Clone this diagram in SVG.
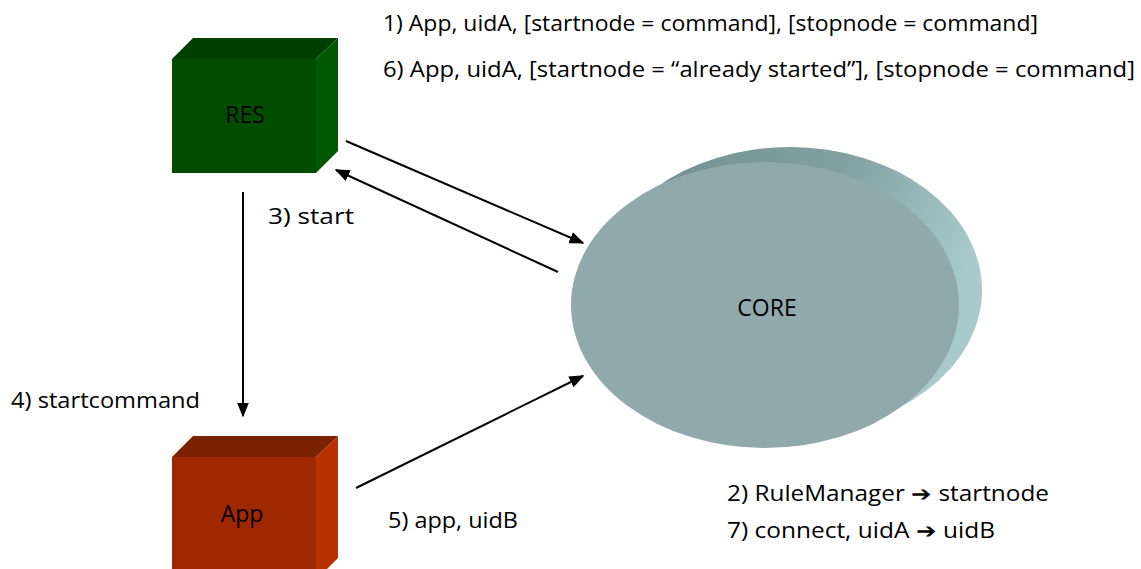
<svg xmlns="http://www.w3.org/2000/svg" width="1141" height="569" viewBox="0 0 1141 569">
  <defs>
    <style>
      text { font-family: "Open Sans", "Liberation Sans", sans-serif; fill: #000; }
      .lbl { font-size: 21px; }
      .node { font-size: 23px; text-anchor: middle; }
      .conn line { stroke: #000; stroke-width: 2; }
    </style>
    <marker id="arrow" viewBox="0 0 10 10" refX="9" refY="5" markerWidth="15" markerHeight="12" orient="auto" markerUnits="userSpaceOnUse" preserveAspectRatio="none">
      <path d="M0,0 L10,5 L0,10 z" fill="#000"/>
    </marker>
    <linearGradient id="coreSide" x1="0" y1="0" x2="1" y2="0.3">
      <stop offset="0" stop-color="#6f8c8f"/>
      <stop offset="0.6" stop-color="#829fa2"/>
      <stop offset="1" stop-color="#a8cacc"/>
    </linearGradient>
  </defs>

  <!-- RES cube -->
  <g id="res">
    <polygon points="172,59 193,38 338,38 316,59" fill="#003f00"/>
    <polygon points="316,59 338,38 338,151 316,173" fill="#005800"/>
    <rect x="172" y="59" width="144" height="114" fill="#004d00"/>
    <text class="node" x="245" y="123">RES</text>
  </g>

  <!-- App cube -->
  <g id="app">
    <polygon points="172,457 193,436 338,436 316,457" fill="#7a2200"/>
    <polygon points="316,457 338,436 338,558 316,580" fill="#b83200"/>
    <rect x="172" y="457" width="144" height="120" fill="#a02800"/>
    <text class="node" x="242" y="522">App</text>
  </g>

  <!-- CORE disc: rear face then front face -->
  <g id="core">
    <ellipse cx="790" cy="290" rx="192" ry="143" fill="url(#coreSide)"/>
    <ellipse cx="765" cy="305" rx="194" ry="143" fill="#8fa9ac"/>
    <text class="node" x="767" y="316">CORE</text>
  </g>

  <!-- connectors -->
  <g id="connectors" class="conn">
    <line x1="346" y1="141" x2="583" y2="243" marker-end="url(#arrow)"/>
    <line x1="558" y1="272" x2="336" y2="170" marker-end="url(#arrow)"/>
    <line x1="243" y1="192" x2="243" y2="416" marker-end="url(#arrow)"/>
    <line x1="356" y1="488" x2="583" y2="376" marker-end="url(#arrow)"/>
  </g>

  <!-- labels -->
  <g id="labels">
    <text class="lbl" x="383" y="31" textLength="655" lengthAdjust="spacingAndGlyphs">1) App, uidA, [startnode = command], [stopnode = command]</text>
    <text class="lbl" x="383" y="77" textLength="752" lengthAdjust="spacingAndGlyphs">6) App, uidA, [startnode = “already started”], [stopnode = command]</text>
    <text class="lbl" x="268" y="224" textLength="86" lengthAdjust="spacingAndGlyphs">3) start</text>
    <text class="lbl" x="11" y="408" textLength="189" lengthAdjust="spacingAndGlyphs">4) startcommand</text>
    <text class="lbl" x="388" y="528" textLength="130" lengthAdjust="spacingAndGlyphs">5) app, uidB</text>
    <text class="lbl" x="727" y="501" textLength="322" lengthAdjust="spacingAndGlyphs">2) RuleManager ➔ startnode</text>
    <text class="lbl" x="727" y="538" textLength="268" lengthAdjust="spacingAndGlyphs">7) connect, uidA ➔ uidB</text>
  </g>
</svg>
